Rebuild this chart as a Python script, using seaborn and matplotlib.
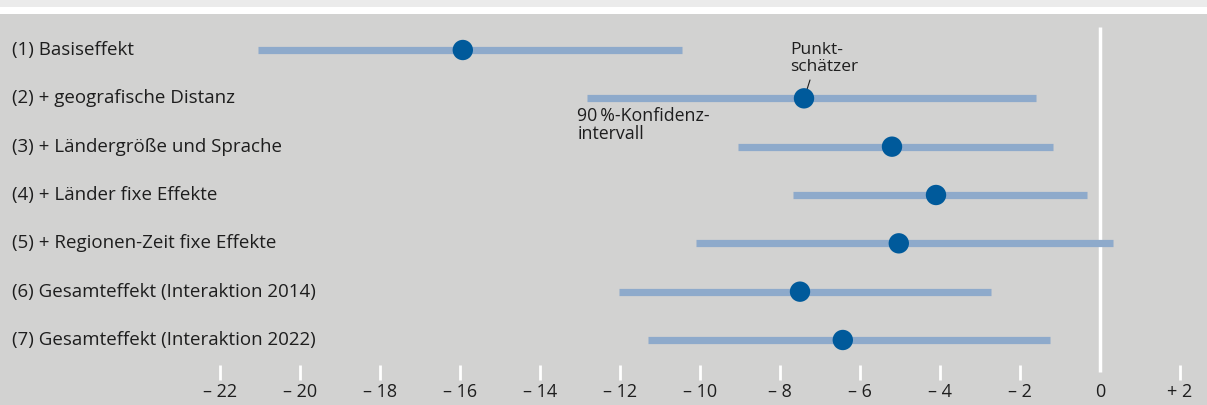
import numpy as np
import pandas as pd
import matplotlib.pyplot as plt
import seaborn as sns
from matplotlib.patches import Rectangle

# data
labels = ["(1) Basiseffekt",
          "(2) + geografische Distanz",
          "(3) + Ländergröße und Sprache",
          "(4) + Länder fixe Effekte",
          "(5) + Regionen-Zeit fixe Effekte",
          "(6) Gesamteffekt (Interaktion 2014)",
          "(7) Gesamteffekt (Interaktion 2022)"]
estimate = [-15.93, -7.4, -5.2, -4.1, -5.03, -7.5, -6.43]
ci_low = [-21.05, -12.83, -9.05, -7.68, -10.1, -12.03, -11.3]
ci_high = [-10.45, -1.6, -1.18, -0.33, 0.33, -2.73, -1.25]
ticks = [-22, -20, -18, -16, -14, -12, -10, -8, -6, -4, -2, 0, 2]

df = pd.DataFrame({"label": labels, "est": estimate, "lo": ci_low, "hi": ci_high})
df["row"] = np.arange(len(df))

sns.set_theme(style="white")
plt.rcParams["font.family"] = ["Open Sans", "DejaVu Sans"]

bg = "#d2d2d1"
txt = "#1e1e1e"
fig = plt.figure(figsize=(12.07, 4.05), dpi=100, facecolor=bg)
# top band
fig.patches.append(Rectangle((0, 1 - 7 / 405), 1, 7 / 405, transform=fig.transFigure,
                             facecolor="#ebebeb", edgecolor="none", zorder=0))
fig.patches.append(Rectangle((0, 1 - 14 / 405), 1, 7 / 405, transform=fig.transFigure,
                             facecolor="white", edgecolor="none", zorder=0))

ax = fig.add_axes([0, 0, 1, 1 - 14 / 405])
ax.patch.set_alpha(0)
ax.set_xlim(-27.5, 2.675)
ax.set_ylim(7.345, -0.745)
for s in ax.spines.values():
    s.set_visible(False)
ax.set_xticks([])
ax.set_yticks([])

# zero line
ax.vlines(0, -0.48, 6.66, color="white", lw=2.5, zorder=1)

# confidence intervals + point estimates
ax.hlines(df["row"], df["lo"], df["hi"], color="#8eaacb", lw=5.2, zorder=2)
sns.scatterplot(data=df, x="est", y="row", ax=ax, s=215, color="#005a9b",
                edgecolor="none", zorder=3, legend=False)
ax.set_xlabel("")
ax.set_ylabel("")

# row labels
for r, lab in zip(df["row"], df["label"]):
    ax.text(-27.2, r, lab, ha="left", va="center", fontsize=13.5, color=txt)

# ticks
tick_labels = []
for t in ticks:
    if t < 0:
        tick_labels.append("\u2013 " + str(-t))
    elif t > 0:
        tick_labels.append("+ " + str(t))
    else:
        tick_labels.append("0")
for t, tl in zip(ticks, tick_labels):
    if t != 0:
        ax.vlines(t, 6.52, 6.83, color="white", lw=2)
    ax.text(t, 7.08, tl, ha="center", va="center", fontsize=13, color=txt)

# annotations
ax.text(-7.75, 0.17, "Punkt-\nschätzer", ha="left", va="center", fontsize=12.5,
        color=txt, linespacing=1.05)
ax.plot([-7.25, -7.33], [0.62, 0.83], color=txt, lw=0.8)
ax.text(-13.07, 1.55, "90\u2009%-Konfidenz-\nintervall", ha="left", va="center",
        fontsize=12.8, color=txt, linespacing=1.05)

fig.savefig("out.png", dpi=100, facecolor=bg)
